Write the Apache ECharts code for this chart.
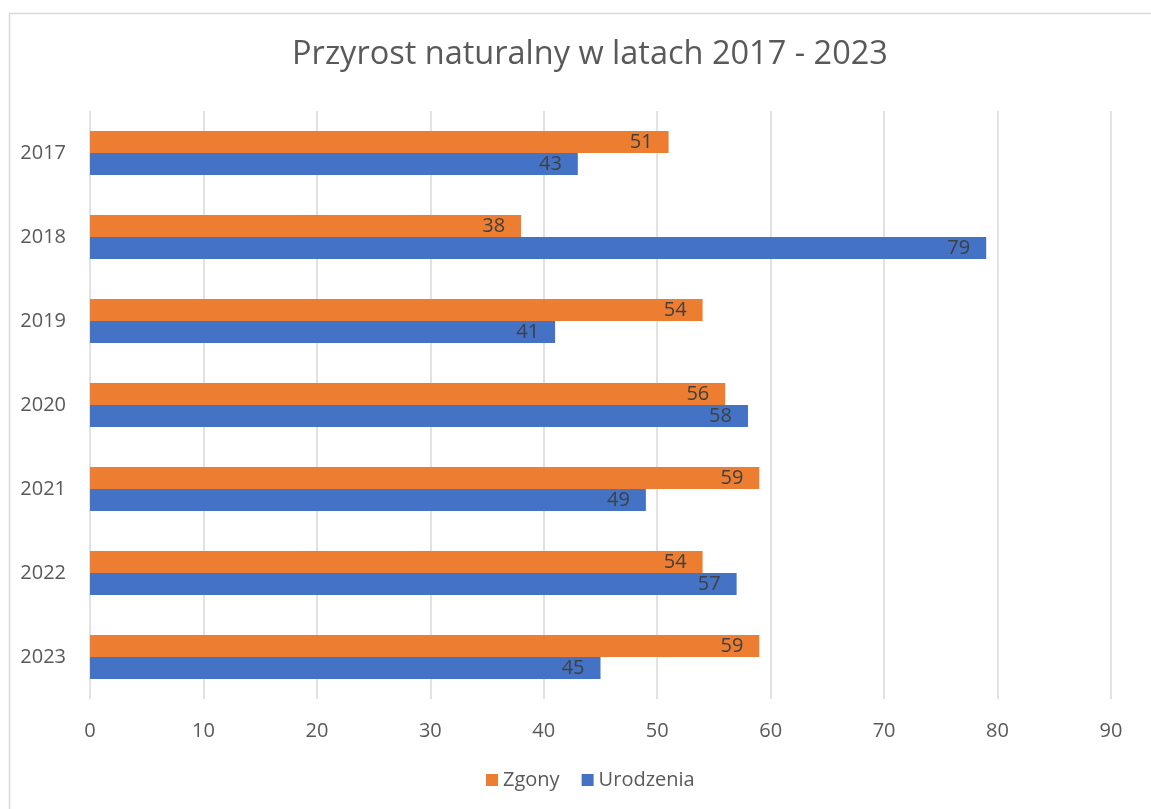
<!DOCTYPE html>
<html>
<head>
<meta charset="utf-8">
<script src="https://cdn.jsdelivr.net/npm/echarts@6/dist/echarts.min.js"></script>
<style>
  html, body { margin: 0; padding: 0; background: #fff; }
  #chart { width: 1151px; height: 809px; }
</style>
</head>
<body>
<div id="chart"></div>
<script>
// dane z wykresu
const years = ['2017', '2018', '2019', '2020', '2021', '2022', '2023'];
const zgony = [51, 38, 54, 56, 59, 54, 59];
const urodzenia = [43, 79, 41, 58, 49, 57, 45];

const font = 'Open Sans';
const chart = echarts.init(document.getElementById('chart'));

const label = {
  show: true,
  position: 'insideRight',
  distance: 16,
  color: '#404040',
  fontSize: 20,
  fontFamily: font
};

chart.setOption({
  animation: false,
  title: {
    text: 'Przyrost naturalny w latach 2017 - 2023',
    left: 585,
    textAlign: 'center',
    top: 33,
    textStyle: { color: '#595959', fontSize: 32.5, fontWeight: 'normal', fontFamily: font }
  },
  graphic: [{
    type: 'rect',
    shape: { x: 9.5, y: 13.5, width: 1200, height: 900 },
    style: { fill: 'none', stroke: '#d9d9d9', lineWidth: 1.5 },
    silent: true
  }],
  legend: {
    bottom: 14,
    left: 481,
    itemWidth: 12,
    itemHeight: 12,
    itemGap: 22,
    icon: 'rect',
    textStyle: { color: '#595959', fontSize: 20, fontFamily: font },
    data: ['Zgony', 'Urodzenia']
  },
  grid: { left: 90, right: 40, top: 111, bottom: 110 },
  xAxis: {
    type: 'value',
    min: 0,
    max: 90,
    interval: 10,
    axisLine: { show: false },
    axisTick: { show: false },
    splitLine: { lineStyle: { color: '#d9d9d9', width: 1.5 } },
    axisLabel: { color: '#595959', fontSize: 20, fontFamily: font, margin: 22 }
  },
  yAxis: {
    type: 'category',
    inverse: true,
    data: years,
    axisLine: { show: false },
    axisTick: { show: false },
    axisLabel: { color: '#595959', fontSize: 20, fontFamily: font, margin: 24 }
  },
  series: [
    {
      name: 'Zgony',
      type: 'bar',
      data: zgony,
      barWidth: 22,
      barGap: '0%',
      itemStyle: { color: '#ed7d31' },
      label: label
    },
    {
      name: 'Urodzenia',
      type: 'bar',
      data: urodzenia,
      barWidth: 22,
      barGap: '0%',
      itemStyle: { color: '#4472c4' },
      label: label
    }
  ]
});
</script>
</body>
</html>
